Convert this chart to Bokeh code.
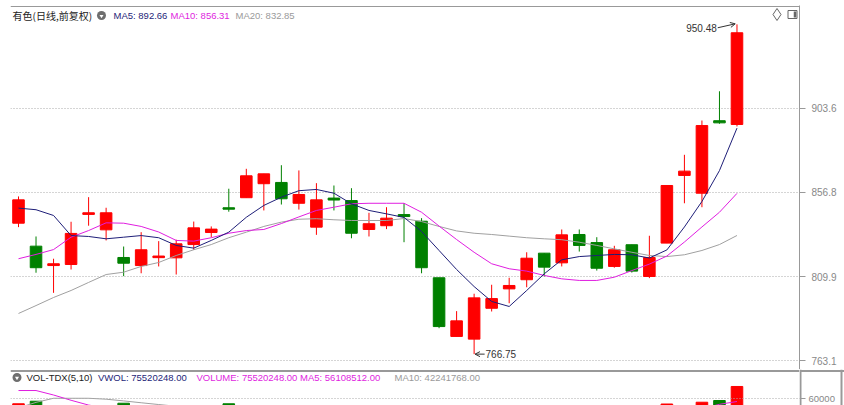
from bokeh.plotting import figure
from bokeh.models import (Range1d, FixedTicker, PrintfTickFormatter, Span, Label,
                          Arrow, OpenHead, ColumnDataSource)
from bokeh.layouts import column, row
from bokeh.embed import file_html
from bokeh.resources import INLINE
from bokeh.core.properties import value

# ---------------- data ----------------
title_text = "有色(日线,前复权)"
vol_title = "VOL-TDX(5,10)"
days = list(range(1, 43))
opens = [839.7, 826.9, 816.1, 816.7, 844.6, 836.0, 820.6, 816.1, 820.5, 820.4,
         827.8, 834.5, 848.3, 853.9, 861.7, 862.4, 850.8, 837.5, 853.7, 852.3,
         836.2, 838.3, 844.5, 840.8, 809.3, 776.6, 775.1, 792.3, 803.1, 808.2,
         823.0, 817.6, 833.4, 828.9, 815.6, 827.7, 810.0, 828.6, 866.3, 856.4,
         896.8, 894.7]
highs = [854.6, 832.3, 819.9, 840.5, 854.2, 848.3, 826.7, 834.7, 829.7, 830.5,
         840.6, 837.9, 858.9, 870.0, 867.2, 872.0, 869.1, 862.0, 860.7, 859.2,
         845.5, 848.6, 850.8, 842.5, 809.3, 790.7, 800.4, 805.4, 809.3, 823.5,
         823.0, 836.2, 836.2, 831.9, 827.1, 827.7, 832.7, 860.7, 877.8, 896.9,
         913.2, 950.48]
lows = [837.5, 812.1, 800.9, 813.9, 838.3, 830.1, 810.2, 811.8, 815.6, 811.1,
        824.9, 831.9, 846.1, 853.9, 846.8, 850.1, 847.3, 833.2, 846.8, 831.3,
        832.3, 836.4, 829.1, 811.8, 781.2, 776.6, 766.75, 790.5, 795.1, 804.0,
        810.0, 815.6, 823.9, 813.3, 814.9, 812.2, 809.1, 828.6, 850.8, 848.6,
        895.1, 893.6]
closes = [852.7, 814.9, 817.1, 834.0, 845.5, 845.5, 817.4, 824.9, 821.4, 828.2,
          837.1, 836.4, 847.5, 866.1, 867.2, 853.3, 855.7, 852.7, 852.6, 834.1,
          839.4, 842.5, 843.4, 814.9, 782.1, 785.3, 798.1, 797.7, 805.0, 820.2,
          815.2, 833.2, 827.3, 814.6, 824.9, 813.0, 820.6, 860.7, 868.7, 894.1,
          895.6, 945.8]
ma5 = [848.1, 847.2, 844.0, 832.8, 832.3, 831.0, 831.9, 832.8, 831.6, 827.3,
       825.8, 830.1, 834.7, 843.0, 849.6, 854.2, 857.8, 858.5, 856.4, 850.5,
       846.8, 844.9, 842.9, 835.1, 824.5, 813.9, 804.4, 796.1, 793.3, 802.2,
       811.5, 819.3, 821.1, 821.7, 822.3, 822.1, 820.3, 824.8, 837.6, 851.8,
       869.0, 892.66]
ma10 = [819.9, 822.3, 825.0, 831.9, 835.6, 839.9, 839.7, 837.9, 834.8, 830.1,
        829.7, 831.6, 834.1, 835.6, 836.2, 839.5, 843.2, 846.8, 848.6, 850.5,
        850.8, 850.8, 850.8, 845.8, 838.1, 830.6, 823.5, 817.1, 814.3, 813.0,
        810.6, 808.7, 807.8, 807.8, 809.6, 813.3, 816.9, 821.4, 829.2, 837.6,
        845.8, 856.31]
ma20 = [789.4, 793.8, 798.3, 802.2, 806.7, 811.1, 812.4, 815.6, 817.8, 821.7,
        824.9, 827.8, 831.6, 834.7, 837.9, 840.3, 841.9, 842.2, 841.6, 841.2,
        841.2, 841.2, 842.3, 840.6, 837.9, 835.4, 834.1, 833.4, 832.5, 831.6,
        831.0, 830.5, 829.1, 827.3, 825.4, 823.5, 821.7, 821.1, 822.1, 824.5,
        827.8, 832.85]
# volume in thousands
volumes = [53200, 56500, 45000, 48000, 40000, 42000, 53900, 38000, 30000, 35000,
           40000, 28000, 53200, 48000, 42000, 45000, 38000, 44000, 36000, 42000,
           30000, 28000, 35000, 46000, 48000, 40000, 44000, 30000, 26000, 34000,
           28000, 32000, 28000, 30000, 26000, 30000, 45000, 52900, 40000, 55200,
           57400, 75520.248]
vol_ma5 = [70300, 70300, 64500, 57700, 51500, 48000, 47000, 45000, 43000, 41000,
           40000, 39000, 41000, 42000, 43000, 45000, 44000, 43000, 41000, 40000,
           38000, 36000, 34000, 36000, 38000, 40000, 42000, 41000, 38000, 36000,
           33000, 30000, 30000, 30000, 29000, 30000, 34000, 37000, 42000, 47000,
           52500, 56108.512]
vol_ma10 = [48000, 55000, 60300, 60300, 60300, 59100, 56900, 54500, 52200, 50000,
            47000, 45000, 44000, 43000, 42000, 42000, 42000, 42000, 41000, 41000,
            40000, 39000, 38000, 38000, 39000, 40000, 40000, 40000, 39000, 38000,
            37000, 36000, 35000, 34000, 33000, 32000, 32000, 33000, 35000, 37000,
            39000, 42241.768]
price_ticks = [763.1, 809.9, 856.8, 903.6]
vol_ticks = [60000]

UP = "#ff0000"
DOWN = "#008000"
MA5_C = "#1e1e78"
MA10_C = "#e01ee0"
MA20_C = "#a0a0a0"
FONT = "Liberation Sans"

# ---------------- layout helpers (reference pixel geometry) ----------------
STEP = 17.524
def px2x(px):
    return 1 + (px - 18) / STEP
def py2p(py):
    return 963.771 - 0.557143 * py
def py2v(py):
    return 60000 + (398 - py) * 1290.3

xr = Range1d(px2x(10), px2x(799))
yr = Range1d(py2p(369), py2p(5))
vr = Range1d(py2v(405), py2v(369))

colors = [UP if c >= o else DOWN for o, c in zip(opens, closes)]
src = ColumnDataSource(dict(
    x=days, h=highs, l=lows,
    top=[max(o, c) for o, c in zip(opens, closes)],
    bottom=[min(o, c) for o, c in zip(opens, closes)],
    color=colors, vol=volumes))

# ---------------- price panel ----------------
p = figure(width=844, height=369, x_range=xr, y_range=yr, output_backend="svg",
           toolbar_location=None, y_axis_location="right", x_axis_location=None,
           min_border_left=10, min_border_right=45, min_border_top=5, min_border_bottom=0,
           background_fill_color="white", border_fill_color="white",
           outline_line_color=None)
p.xgrid.grid_line_color = None
p.ygrid.ticker = FixedTicker(ticks=price_ticks)
p.ygrid.grid_line_color = "#aaaaaa"
p.ygrid.grid_line_dash = "1 2"
ax = p.yaxis[0]
ax.ticker = FixedTicker(ticks=price_ticks)
ax.formatter = PrintfTickFormatter(format="%.1f")
ax.axis_line_color = "#999999"
ax.major_tick_line_color = "#999999"
ax.major_tick_in = 0
ax.major_tick_out = 6
ax.minor_tick_line_color = None
ax.major_label_standoff = 6
ax.major_label_text_font_size = "10px"
ax.major_label_text_color = "#888888"
ax.major_label_text_font = FONT

p.add_layout(Span(location=py2p(6), dimension="width", line_color="#999999", line_width=1))

p.segment("x", "h", "x", "l", source=src, line_color="color", line_width=1)
p.vbar(x="x", width=0.66, top="top", bottom="bottom", source=src,
       fill_color="color", line_color="color", line_width=1)
p.line(days, ma20, line_color=MA20_C, line_width=1)
p.line(days, ma10, line_color=MA10_C, line_width=1)
p.line(days, ma5, line_color=MA5_C, line_width=1)

def add_label(fig, x, y, text, color, size="10px", font=FONT, align="left"):
    fig.add_layout(Label(x=x, y=y, text=text, text_color=color, text_font_size=size,
                         text_font=font, text_baseline="middle", text_align=align))

# legend line
ly = py2p(15)
add_label(p, px2x(12), ly, title_text, "#222222", size="10px", font="Noto Sans CJK SC")
p.scatter(x=[px2x(101)], y=[ly], marker="circle", size=9, fill_color="#6e6e6e", line_color=None)
p.scatter(x=[px2x(101)], y=[ly - 0.3], marker="inverted_triangle", size=4, fill_color="white", line_color=None)
add_label(p, px2x(113), ly, f"MA5: {ma5[-1]:.2f}", MA5_C, size="9.5px")
add_label(p, px2x(170), ly, f"MA10: {ma10[-1]:.2f}", MA10_C, size="9.5px")
add_label(p, px2x(235), ly, f"MA20: {ma20[-1]:.2f}", "#9a9a9a", size="9.5px")

# top-right icons
iy = py2p(14)
p.scatter(x=[px2x(776.5)], y=[iy], marker="diamond", size=12, fill_color=None, line_color="#666666")
p.rect(x=[px2x(792)], y=[iy], width=9, height=8, width_units="screen", height_units="screen",
       fill_color=None, line_color="#666666")
p.rect(x=[px2x(794.5)], y=[iy], width=2.5, height=6, width_units="screen", height_units="screen",
       fill_color="#666666", line_color=None)

# high / low annotations
ih = highs.index(max(highs))
il = lows.index(min(lows))
p.add_layout(Arrow(end=OpenHead(size=5, line_color="#333333", line_width=1),
                   x_start=days[ih] - 1.1, y_start=highs[ih] - 1.9,
                   x_end=days[ih] - 0.1, y_end=highs[ih] + 0.3,
                   line_color="#333333", line_width=1))
add_label(p, days[ih] - 1.15, highs[ih] - 1.9, f"{highs[ih]:.2f}", "#333333", size="10px", align="right")
p.add_layout(Arrow(end=OpenHead(size=5, line_color="#333333", line_width=1),
                   x_start=days[il] + 0.6, y_start=lows[il],
                   x_end=days[il] + 0.05, y_end=lows[il],
                   line_color="#333333", line_width=1))
add_label(p, days[il] + 0.65, lows[il], f"{lows[il]:.2f}", "#333333", size="10px")

# ---------------- volume panel ----------------
pv = figure(width=799, height=36, x_range=xr, y_range=vr, output_backend="svg",
            toolbar_location=None, y_axis_location=None, x_axis_location=None,
            min_border_left=10, min_border_right=0, min_border_top=0, min_border_bottom=0,
            background_fill_color="white", border_fill_color="white",
            outline_line_color=None)
pv.xgrid.grid_line_color = None
pv.ygrid.grid_line_color = None
for t in vol_ticks:
    pv.add_layout(Span(location=t, dimension="width", line_color="#aaaaaa", line_dash="1 2"))
pv.vbar(x="x", width=0.66, top="vol", bottom=0, source=src,
        fill_color="color", line_color="color", line_width=1)
pv.line(days, vol_ma10, line_color=MA20_C, line_width=1)
pv.line(days, vol_ma5, line_color=MA10_C, line_width=1)
pv.add_layout(Span(location=py2v(370.5), dimension="width", line_color="#999999", line_width=2))

vy = py2v(377)
pv.scatter(x=[px2x(16.5)], y=[vy], marker="circle", size=9, fill_color="#6e6e6e", line_color=None)
pv.scatter(x=[px2x(16.5)], y=[vy - 500], marker="inverted_triangle", size=4, fill_color="white", line_color=None)
add_label(pv, px2x(26), vy, vol_title, "#222222", size="9.5px")
add_label(pv, px2x(97.5), vy, f"VWOL: {volumes[-1]*1000:.2f}", MA5_C, size="9.5px")
add_label(pv, px2x(196), vy, f"VOLUME: {volumes[-1]*1000:.2f} MA5: {vol_ma5[-1]*1000:.2f}",
          MA10_C, size="9.5px")
add_label(pv, px2x(394), vy, f"MA10: {vol_ma10[-1]*1000:.2f}", "#9a9a9a", size="9.5px")

# volume axis box
pb = figure(width=45, height=36, x_range=Range1d(0, 45), y_range=vr, output_backend="svg",
            toolbar_location=None, y_axis_location=None, x_axis_location=None,
            min_border_left=0, min_border_right=0, min_border_top=0, min_border_bottom=0,
            background_fill_color="white", border_fill_color="white",
            outline_line_color=None)
pb.xgrid.grid_line_color = None
pb.ygrid.grid_line_color = None
pb.add_layout(Span(location=1, dimension="height", line_color="#999999", line_width=2))
pb.add_layout(Span(location=42, dimension="height", line_color="#999999", line_width=2))
pb.add_layout(Span(location=py2v(370.5), dimension="width", line_color="#999999", line_width=2))
pb.segment(x0=[0] * len(vol_ticks), y0=vol_ticks, x1=[6] * len(vol_ticks), y1=vol_ticks,
           line_color="#999999", line_width=1)
pb.text(x=[9] * len(vol_ticks), y=vol_ticks, text=[str(t) for t in vol_ticks],
        text_font=value(FONT), text_font_size="9.5px", text_color="#888888",
        text_baseline="middle", text_align="left")

layout = column(p, row(pv, pb))
open("out.html", "w").write(file_html(layout, INLINE))
